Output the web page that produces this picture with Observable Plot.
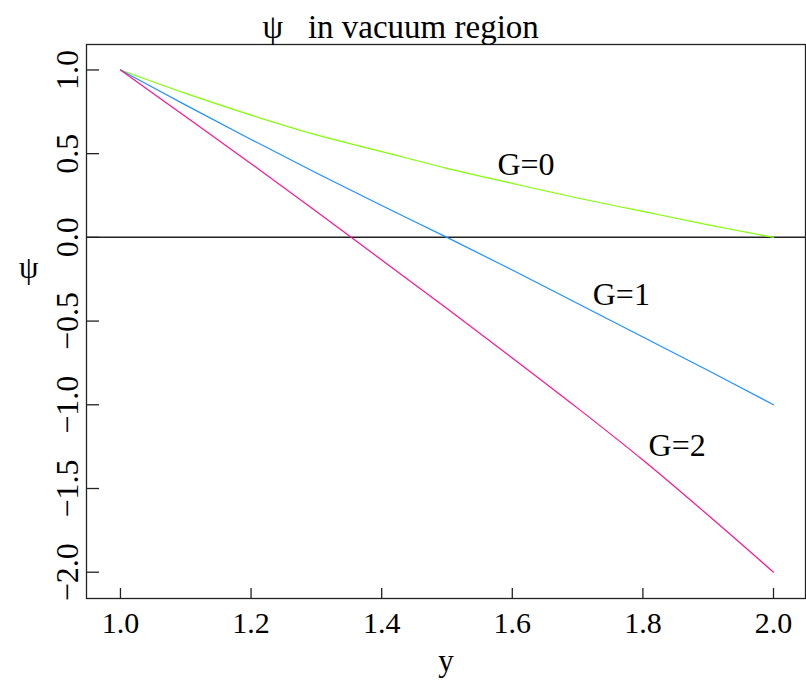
<!DOCTYPE html>
<html>
<head>
<meta charset="utf-8">
<script src="https://cdn.jsdelivr.net/npm/d3@7"></script>
<script src="https://cdn.jsdelivr.net/npm/@observablehq/plot@0.6"></script>
<style>
  body { margin: 0; background: #fff; }
  svg { display: block; }
</style>
</head>
<body>
<div id="chart"></div>
<script>
// ---- data ----
const yValues = [1.0, 1.1, 1.2, 1.3, 1.4, 1.5, 1.6, 1.7, 1.8, 1.9, 2.0];
const psiG0 = [1.0, 0.86, 0.73, 0.612, 0.512, 0.412, 0.322, 0.235, 0.155, 0.075, 0.0];
const psiG1 = [1.0, 0.79, 0.585, 0.385, 0.19, 0.0, -0.195, -0.395, -0.595, -0.795, -1.0];
const psiG2 = [1.0, 0.72, 0.44, 0.155, -0.135, -0.425, -0.72, -1.02, -1.33, -1.66, -2.0];

const seriesNames = ["G=0", "G=1", "G=2"];
const seriesColors = ["#7FFF00", "#1E90FF", "#FF1493"];
const labelX = [1.621, 1.767, 1.8525];
const labelY = [0.435, -0.342, -1.247];

const xTicks = [1.0, 1.2, 1.4, 1.6, 1.8, 2.0];
const yTicks = [-2.0, -1.5, -1.0, -0.5, 0.0, 0.5, 1.0];

const titleText = "\u03c8\u2002 in vacuum region";
const xLabel = "y";
const yLabel = "\u03c8";

// ---- tables built from the arrays ----
const seriesValues = [psiG0, psiG1, psiG2];
const rows = seriesNames.flatMap((g, k) =>
  yValues.map((v, i) => ({y: v, psi: seriesValues[k][i], G: g}))
);
const labels = seriesNames.map((g, k) => ({x: labelX[k], y: labelY[k], text: g}));

const fmt = d3.format(".1f");
const serif = "'Liberation Serif', 'Times New Roman', Times, serif";

const W = 806, H = 681, ML = 86, MR = 1, MT = 44, MB = 83;
const frameW = W - ML - MR, frameH = H - MT - MB;
const xDomain = [0.948, 2.049];
const yDomain = [-2.157, 1.152];
// inward tick lengths converted from pixels to scale units
const xTickLen = 10 * (yDomain[1] - yDomain[0]) / frameH;
const yTickLen = 13 * (xDomain[1] - xDomain[0]) / frameW;

const chart = Plot.plot({
  width: W,
  height: H,
  marginLeft: ML,
  marginRight: MR,
  marginTop: MT,
  marginBottom: MB,
  style: {fontFamily: serif, background: "#fff", color: "#000", overflow: "visible"},
  x: {domain: xDomain, axis: null},
  y: {domain: yDomain, axis: null},
  color: {domain: seriesNames, range: seriesColors},
  marks: [
    Plot.ruleY([0], {stroke: "#222", strokeWidth: 1.5}),
    Plot.line(rows, {x: "y", y: "psi", z: "G", stroke: "G", strokeWidth: 1.2, curve: "catmull-rom"}),
    Plot.frame({stroke: "#222", strokeWidth: 1.3}),
    Plot.ruleX(xTicks, {x: d => d, y1: yDomain[0], y2: yDomain[0] + xTickLen, stroke: "#222", strokeWidth: 1.3}),
    Plot.ruleY(yTicks, {y: d => d, x1: xDomain[0], x2: xDomain[0] + yTickLen, stroke: "#222", strokeWidth: 1.3}),
    Plot.text(xTicks, {x: d => d, text: d => fmt(d), frameAnchor: "bottom", lineAnchor: "middle", textAnchor: "middle", dy: 24.7, fontSize: 30, fill: "#000"}),
    Plot.text(yTicks, {y: d => d, text: d => fmt(d), frameAnchor: "left", lineAnchor: "middle", textAnchor: "middle", dx: -18.5, rotate: -90, fontSize: 32, fill: "#000"}),
    Plot.text(labels, {x: "x", y: "y", text: "text", lineAnchor: "middle", textAnchor: "middle", fontSize: 32, fill: "#000"}),
    Plot.text([titleText], {frameAnchor: "top-left", lineAnchor: "middle", textAnchor: "start", dx: 176, dy: -17.3, fontSize: 33, fill: "#000"}),
    Plot.text([xLabel], {frameAnchor: "bottom", lineAnchor: "middle", textAnchor: "middle", dy: 62.7, fontSize: 31, fill: "#000"}),
    Plot.text([yLabel], {frameAnchor: "left", lineAnchor: "middle", textAnchor: "end", dx: -48, dy: -53, fontSize: 31, fill: "#000"})
  ]
});
document.getElementById("chart").appendChild(chart);
</script>
</body>
</html>
